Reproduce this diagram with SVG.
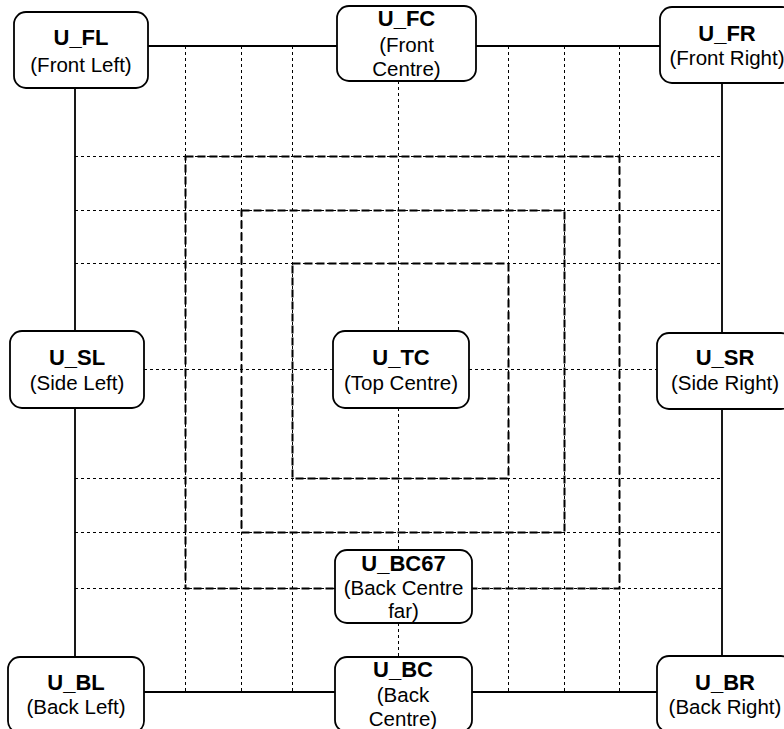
<svg xmlns="http://www.w3.org/2000/svg" width="784" height="729" viewBox="0 0 784 729">
<style>
.thin{stroke:#000;stroke-width:1;stroke-dasharray:3 3;fill:none}
.sq{stroke:#000;stroke-width:2;stroke-dasharray:8 4;fill:none}
.solid{stroke:#000;stroke-width:1.8;fill:none}
.box{fill:#fff;stroke:#000;stroke-width:1.8}
text{font-family:"Liberation Sans",Arial,sans-serif;text-anchor:middle;fill:#000}
.b{font-weight:bold;font-size:22px}
.r{font-size:20.5px}
</style>
<rect width="784" height="729" fill="#fff"/>
<g id="connectors">
<g id="grid">
<path class="thin" d="M185.5 46V692M241.5 46V692M292.5 46V692M508.5 46V692M564.5 46V692M619.5 46V692"/>
<path class="thin" d="M398.5 81V331M398.5 408V550M398.5 623V657"/>
<path class="thin" d="M75 156.5H722M75 210.5H722M75 263.5H722M75 478.5H722M75 532.5H722M75 588.5H335M472 588.5H722"/>
<path class="thin" d="M144 369.5H333M469 369.5H657"/>
</g>
<g id="squares">
<rect class="sq" x="185.5" y="156.5" width="434" height="432"/>
<rect class="sq" x="241.5" y="210.5" width="323" height="322"/>
<rect class="sq" x="292.5" y="263.5" width="216" height="215"/>
</g>
<path class="solid" d="M148 46H337M476 46H660M75 88V331M75 408V657M722 83V333M722 409V656M144 692H335M472 692H657"/>
</g>
<g id="U_FL"><rect class="box" x="14" y="12" width="134" height="76" rx="12"/><text x="81" y="44.5" class="b">U_FL</text><text x="81" y="72" class="r">(Front Left)</text></g>
<g id="U_FC"><rect class="box" x="337" y="6" width="139" height="75" rx="12"/><text x="406.5" y="26" class="b">U_FC</text><text x="406.5" y="52" class="r">(Front</text><text x="406.5" y="76" class="r">Centre)</text></g>
<g id="U_FR"><rect class="box" x="660" y="7" width="134" height="76" rx="12"/><text x="727" y="41" class="b">U_FR</text><text x="727" y="65" class="r">(Front Right)</text></g>
<g id="U_SL"><rect class="box" x="10" y="331" width="134" height="77" rx="12"/><text x="77" y="364.5" class="b">U_SL</text><text x="77" y="390" class="r">(Side Left)</text></g>
<g id="U_TC"><rect class="box" x="333" y="331" width="136" height="77" rx="12"/><text x="401" y="364.5" class="b">U_TC</text><text x="401" y="390" class="r">(Top Centre)</text></g>
<g id="U_SR"><rect class="box" x="657" y="333" width="136" height="76" rx="12"/><text x="725" y="365" class="b">U_SR</text><text x="725" y="390" class="r">(Side Right)</text></g>
<g id="U_BC67"><rect class="box" x="335" y="550" width="137" height="73" rx="12"/><text x="403.5" y="571" class="b">U_BC67</text><text x="403.5" y="594.5" class="r">(Back Centre</text><text x="403.5" y="618" class="r">far)</text></g>
<g id="U_BL"><rect class="box" x="8" y="657" width="136" height="76" rx="12"/><text x="76" y="690" class="b">U_BL</text><text x="76" y="714" class="r">(Back Left)</text></g>
<g id="U_BC"><rect class="box" x="335" y="657" width="137" height="75" rx="12"/><text x="403" y="677" class="b">U_BC</text><text x="403" y="701.5" class="r">(Back</text><text x="403" y="726" class="r">Centre)</text></g>
<g id="U_BR"><rect class="box" x="657" y="656" width="136" height="76" rx="12"/><text x="725" y="690" class="b">U_BR</text><text x="725" y="714" class="r">(Back Right)</text></g>
</svg>
